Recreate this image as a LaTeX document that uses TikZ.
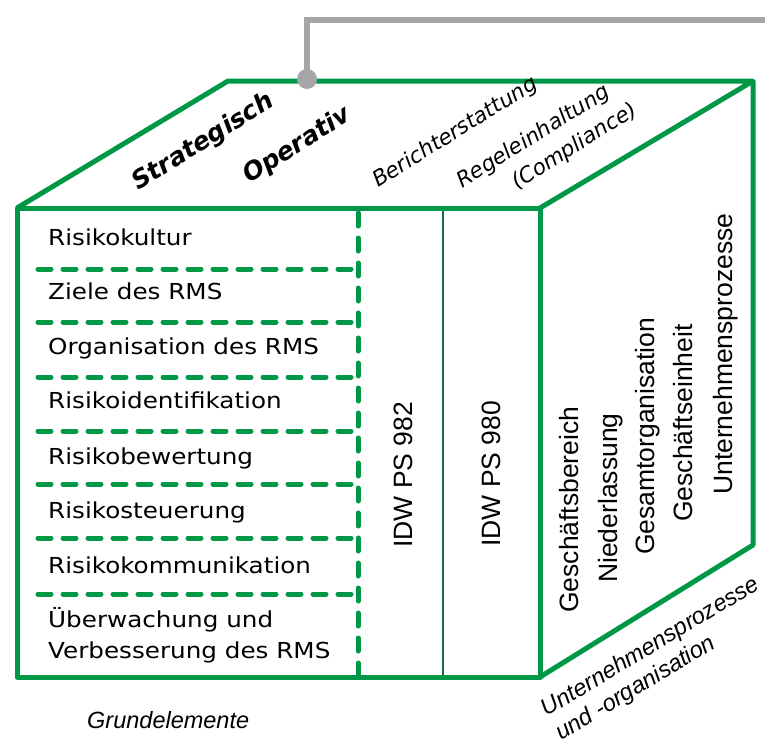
\documentclass[tikz,border=0pt]{standalone}
\usepackage{fontspec}
\setmainfont{Liberation Sans}
\newfontfamily\verd{DejaVu Sans}[ItalicFont={DejaVu Sans Oblique},BoldFont={DejaVu Sans Bold},BoldItalicFont={DejaVu Sans Bold Oblique}]
\usepackage{graphicx}
\definecolor{rmsgreen}{RGB}{0,152,70}
\definecolor{rmsdark}{RGB}{20,110,60}
\definecolor{leitung}{RGB}{166,166,168}
\newcommand{\hs}[1]{\scalebox{1.12}[1]{#1}}

\begin{document}
\begin{tikzpicture}[
    x=1pt, y=-1pt,
    edge/.style={rmsgreen, line width=5pt, line join=round},
    sep/.style={rmsgreen, line width=5pt, line cap=round, dash pattern=on 13pt off 12pt},
    element/.style={anchor=base west, inner sep=0pt, align=left,
        font=\verd\fontsize{22}{31}\selectfont},
    norm/.style={anchor=base west, inner sep=0pt, rotate=90,
        font=\fontsize{26.5}{30}\selectfont},
    dach/.style={anchor=base west, inner sep=0pt, rotate=32,
        font=\verd\itshape\fontsize{21.5}{26}\selectfont},
    dachfett/.style={dach, font=\verd\bfseries\itshape\fontsize{25}{30}\selectfont},
    unten/.style={anchor=base west, inner sep=0pt, align=left,
        font=\itshape\fontsize{23.5}{28}\selectfont}
  ]
  \useasboundingbox (0,0) rectangle (765,742);

  % Ecken des Wuerfels
  \coordinate (vl) at (17,208);
  \coordinate (vr) at (540,208);
  \coordinate (ul) at (17,677);
  \coordinate (ur) at (540,677);
  \coordinate (hl) at (228,81);
  \coordinate (hr) at (753,81);
  \coordinate (hu) at (753,545);

  % Unterteilung der Vorderseite
  \foreach \y in {269,322,377,431,484,538,594}
    \draw[sep] (38,\y) -- (352,\y);
  \draw[sep] (358,213) -- (358,677);
  \draw[rmsdark, line width=1.5pt] (443,208) -- (443,677);

  % Wuerfel
  \draw[edge] (vl) rectangle (ur);
  \draw[edge] (vl) -- (hl) -- (hr) -- (vr);
  \draw[edge] (hr) -- (hu) -- (ur);

  % Verbindung nach aussen
  \node[circle, fill=leitung, minimum size=20pt, inner sep=0pt] (punkt) at (307,79) {};
  \coordinate (knick) at (307,20);
  \coordinate (rand) at (770,20);
  \draw[leitung, line width=6pt] (punkt.center) -- (knick) -- (rand);

  % Grundelemente
  \node[element] (kultur) at (48,245) {\hs{Risikokultur}};
  \node[element] (ziele) at (48,299) {\hs{Ziele des RMS}};
  \node[element] (orga) at (48,354) {\hs{Organisation des RMS}};
  \node[element] (ident) at (48,408) {\hs{Risikoidentifikation}};
  \node[element] (bewert) at (48,464) {\hs{Risikobewertung}};
  \node[element] (steuer) at (48,518) {\hs{Risikosteuerung}};
  \node[element] (komm) at (48,573) {\hs{Risikokommunikation}};
  \node[element] (ueberw) at (48,658) {\hs{Überwachung und}\\\hs{Verbesserung des RMS}};
  \node[unten] (grund) at (87,728) {Grundelemente};

  % Standards
  \node[norm] (ps982) at (412,548) {IDW PS 982};
  \node[norm] (ps980) at (500,547) {IDW PS 980};

  % Oberseite
  \node[dachfett] (strat) at (138,191) {Strategisch};
  \node[dachfett] (operativ) at (249,184) {Operativ};
  \node[dach] (bericht) at (378,188) {Berichterstattung};
  \node[dach] (regel) at (462,189) {Regeleinhaltung};
  \node[dach] (compl) at (517,190) {(Compliance)};

  % Seitenflaeche
  \node[norm] (gbereich) at (578,613) {Geschäftsbereich};
  \node[norm] (nieder) at (617,583) {Niederlassung};
  \node[norm] (gesamt) at (654,555) {Gesamtorganisation};
  \node[norm] (geinheit) at (692,522) {Geschäftseinheit};
  \node[norm] (uprozesse) at (732,495) {Unternehmensprozesse};
  \node[unten, rotate=31] (orgprozesse) at (561,741) {Unternehmensprozesse\\und -organisation};
\end{tikzpicture}
\end{document}
